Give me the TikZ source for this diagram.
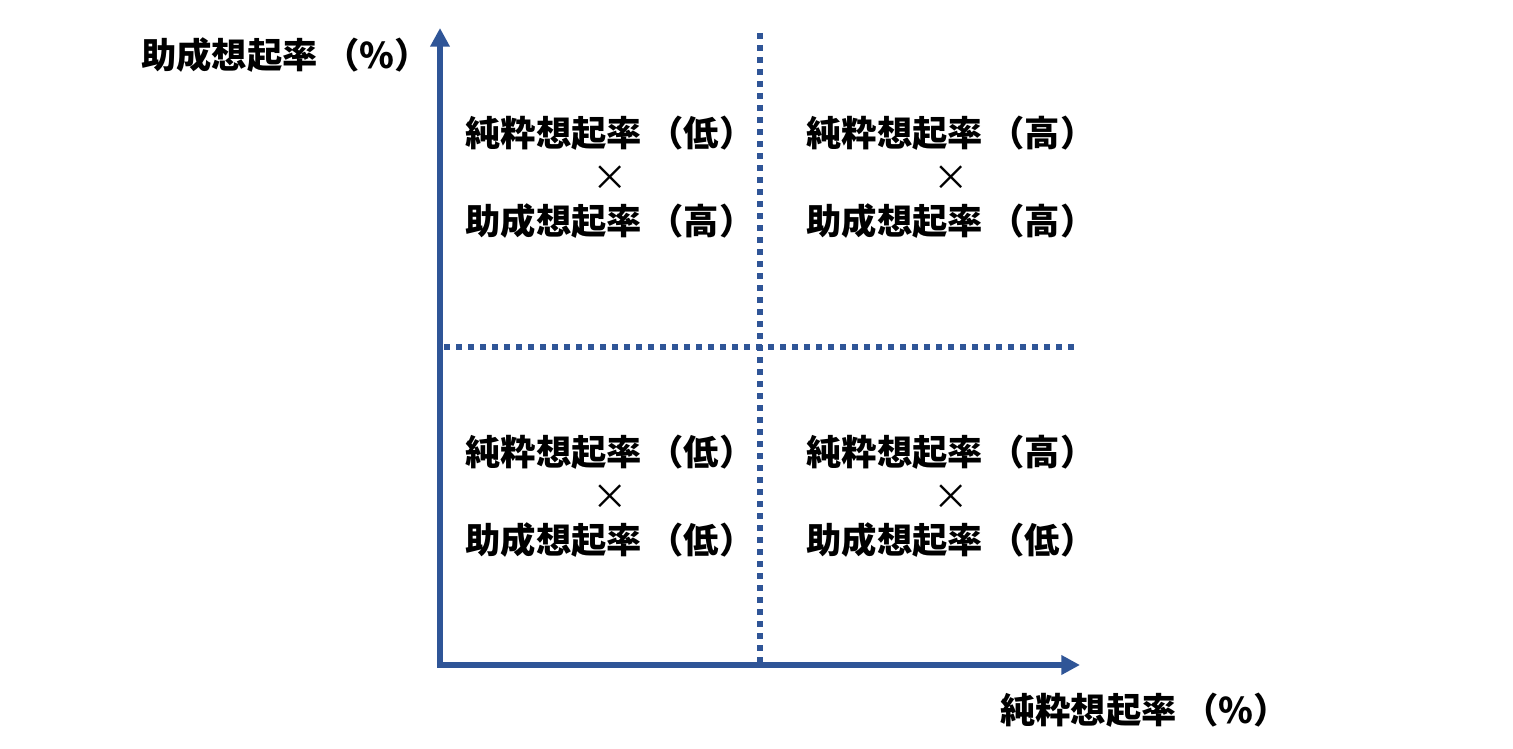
\documentclass[tikz,border=0pt]{standalone}
\usepackage{fontspec}
\newfontfamily\cjk{Noto Sans CJK JP}
\usetikzlibrary{arrows.meta}
\definecolor{axisblue}{HTML}{2F5597}
\tikzset{
  axisline/.style={draw=axisblue, line width=4.4pt, -{Triangle[length=14pt,width=14pt]}},
  splitline/.style={draw=axisblue, line width=4.1pt, dash pattern=on 4.6pt off 4.4pt},
  quadtext/.style={align=center, font=\cjk\fontsize{26.5}{33}\selectfont\bfseries, inner sep=0pt},
  axislabel/.style={anchor=west, font=\cjk\fontsize{26.5}{33}\selectfont\bfseries, inner sep=0pt}
}
\newcommand{\kakeru}{{\mdseries ×}}
\newcommand{\kakko}[1]{\hspace{5pt}（#1）}
\begin{document}
\begin{tikzpicture}[x=0.75pt, y=-0.75pt]
\useasboundingbox (0,0) rectangle (1513,749);
\coordinate (o) at (440,665);
%原点
\coordinate (ytip) at (440,28);
\coordinate (xtip) at (1080,665);
\coordinate (mtop) at (760,33);
\coordinate (mbot) at (760,665);
\coordinate (mleft) at (444,347);
\coordinate (mright) at (1075,347);
\draw[splitline] (mtop) -- (mbot);
%縦の区切り線
\draw[splitline] (mleft) -- (mright);
%横の区切り線
\draw[axisline] ([yshift=-2.2pt]o) -- (ytip);
%縦軸
\draw[axisline] ([xshift=-2.2pt]o) -- (xtip);
%横軸
\node[axislabel] (ylab) at (141,55) {助成想起率\kakko{\%}};
\node[axislabel] (xlab) at (1000,710) {純粋想起率\kakko{\%}};
\node[quadtext] (tl) at (610,177) {純粋想起率\kakko{低}\\\kakeru\\助成想起率\kakko{高}};
\node[quadtext] (tr) at (951,177) {純粋想起率\kakko{高}\\\kakeru\\助成想起率\kakko{高}};
\node[quadtext] (bl) at (610,496) {純粋想起率\kakko{低}\\\kakeru\\助成想起率\kakko{低}};
\node[quadtext] (br) at (951,496) {純粋想起率\kakko{高}\\\kakeru\\助成想起率\kakko{低}};
\end{tikzpicture}
\end{document}
